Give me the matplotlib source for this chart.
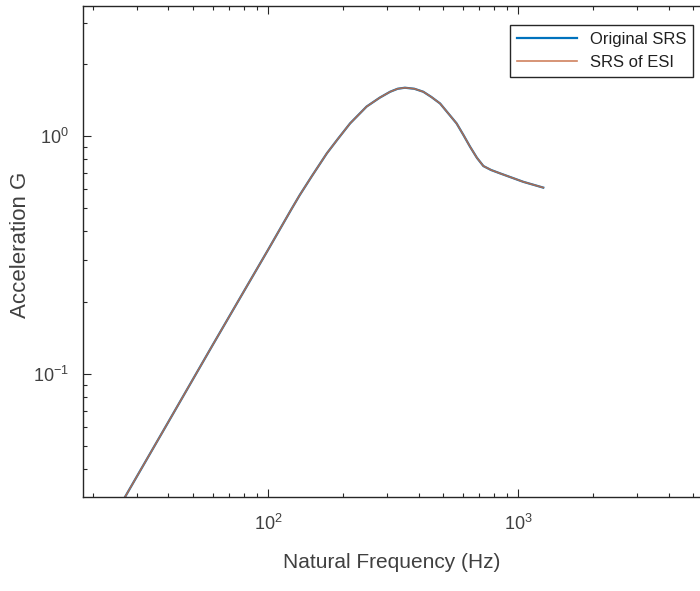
import numpy as np
import matplotlib.pyplot as plt
from matplotlib.ticker import LogLocator

plt.rcParams['font.family'] = ['Liberation Sans', 'DejaVu Sans']
plt.rcParams['mathtext.fontset'] = 'custom'
plt.rcParams['mathtext.rm'] = 'Liberation Sans'

# Daten
freq = [20.0, 26.8, 40.0, 60.0, 80.0, 100.0, 124.0, 134.0, 150.0, 172.0, 190.0,
        213.0, 248.0, 280.0, 308.0, 330.0, 353.0, 385.0, 418.0, 450.0, 488.0,
        568.0, 605.0, 643.0, 685.0, 727.0, 780.0, 847.0, 1050.0, 1262.0]
srs_orig = [0.018, 0.0304, 0.063, 0.132, 0.222, 0.332, 0.492, 0.565, 0.68, 0.846, 0.97,
            1.13, 1.33, 1.45, 1.535, 1.58, 1.596, 1.58, 1.535, 1.46, 1.37,
            1.13, 1.01, 0.902, 0.81, 0.748, 0.72, 0.697, 0.642, 0.607]
srs_esi = [0.018, 0.0304, 0.063, 0.132, 0.222, 0.332, 0.492, 0.565, 0.68, 0.846, 0.97,
           1.13, 1.33, 1.45, 1.535, 1.58, 1.596, 1.58, 1.535, 1.46, 1.37,
           1.13, 1.01, 0.902, 0.81, 0.748, 0.72, 0.697, 0.642, 0.607]

txt = '#404040'
fig = plt.figure(figsize=(7.0, 5.91), dpi=100)
ax = fig.add_axes([83/700, 94/591, 637/700, 491/591])

ax.plot(freq, srs_orig, color=(0, 0.447, 0.741), lw=1.6, label='Original SRS')
ax.plot(freq, srs_esi, color=(0.78, 0.42, 0.26), lw=1.2, alpha=0.85, label='SRS of ESI')

ax.set_xscale('log')
ax.set_yscale('log')
ax.set_xlim(18.2, 6427)
ax.set_ylim(0.0304, 3.52)
ax.xaxis.set_major_locator(LogLocator(base=10, numticks=10))
ax.yaxis.set_major_locator(LogLocator(base=10, numticks=10))

ax.tick_params(which='both', direction='in', top=True, right=True,
               colors='#262626', labelcolor=txt, labelsize=13)
ax.tick_params(which='major', length=6, width=0.8)
ax.tick_params(which='minor', length=3, width=0.8)
ax.tick_params(axis='y', which='major', pad=10)
ax.tick_params(axis='x', which='major', pad=12)
for s in ax.spines.values():
    s.set_color('#262626')
    s.set_linewidth(1.0)

ax.set_xlabel('Natural Frequency (Hz)', fontsize=15, color=txt)
ax.set_ylabel('Acceleration G', fontsize=16, color=txt)
ax.xaxis.set_label_coords((392 - 83) / 637, -(553 - 497) / 491)
ax.yaxis.set_label_coords(-(83 - 31) / 637, (591 - 245 - 94) / 491)

leg = ax.legend(loc='upper right', bbox_to_anchor=(693/700, 1 - 25/591),
                bbox_transform=fig.transFigure, borderaxespad=0, fontsize=12,
                handlelength=3.6, fancybox=False, framealpha=1,
                edgecolor='#262626', labelspacing=0.5, borderpad=0.4)
for t in leg.get_texts():
    t.set_color('#202020')

plt.savefig('out.png', dpi=100)
